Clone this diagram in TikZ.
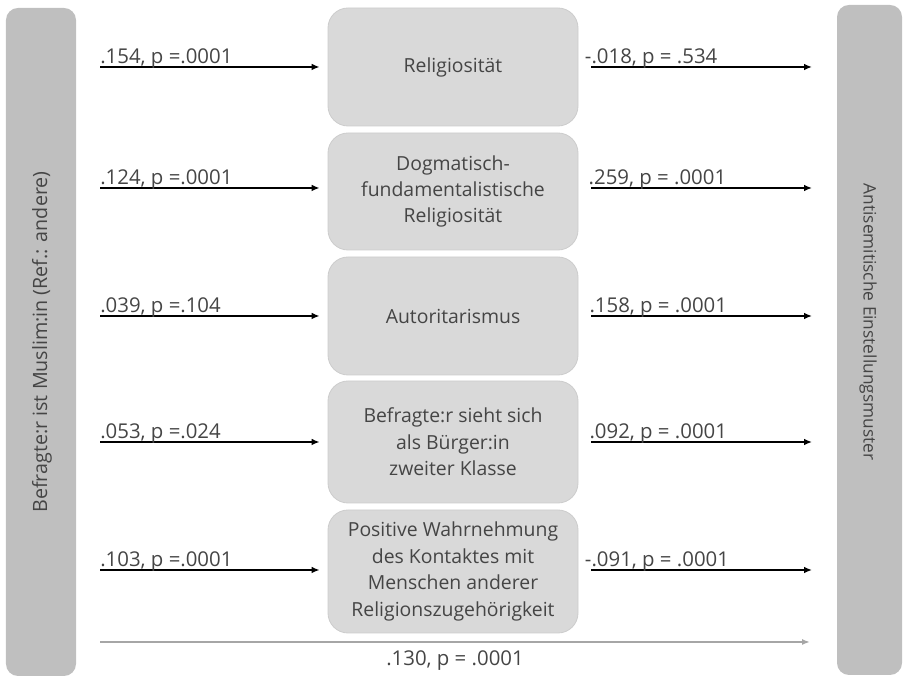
\documentclass[tikz,border=0pt]{standalone}
\usepackage{fontspec}
\setmainfont{Open Sans}
\usepackage{xcolor}
\usepackage{tikz}
\usetikzlibrary{calc,arrows.meta}
\definecolor{bargray}{HTML}{BFBFBF}
\definecolor{boxgray}{HTML}{D9D9D9}
\definecolor{boxline}{HTML}{CDCDCD}
\definecolor{txtgray}{HTML}{454545}
\definecolor{totalgray}{HTML}{A6A6A6}

\begin{document}
\begin{tikzpicture}[
  bar/.style={fill=bargray, rounded corners=0.3cm, inner sep=0pt},
  bartext/.style={text=txtgray, inner sep=0pt},
  mediator/.style={fill=boxgray, draw=boxline, line width=0.6pt, rounded corners=0.5cm, minimum width=6.25cm, text=txtgray, align=center, font=\fontsize{13.8}{18.8}\selectfont, inner sep=0pt},
  coef/.style={text=txtgray, font=\fontsize{14.5}{17}\selectfont, anchor=base west, inner sep=0pt},
  effect/.style={black, line width=1.2pt, -{Latex[length=2mm,width=1.7mm]}},
  total/.style={totalgray, line width=1.1pt, -{Latex[length=2mm,width=1.5mm]}}]
  \useasboundingbox (0,0) rectangle (22.575,16.95);
  \node[bar, minimum width=1.75cm, minimum height=16.7cm] (muslim) at (1.025,8.4) {};
  \node[bar, minimum width=1.625cm, minimum height=16.75cm] (antisem) at (21.7375,8.45) {};
  \node[bartext, rotate=90, font=\fontsize{14}{17}\selectfont] (muslimtext) at (1.05,8.4) {Befragte:r ist Muslim:in (Ref.: andere)};
  \node[bartext, rotate=-90, font=\fontsize{12.3}{15}\selectfont] (antisemtext) at (21.7,8.9) {Antisemitische Einstellungsmuster};
  \node[mediator, minimum height=2.95cm] (relig) at (11.325,15.275) {Religiosität};
  \node[mediator, minimum height=2.925cm] (dogma) at (11.325,12.1625) {Dogmatisch-\\fundamentalistische\\Religiosität};
  \node[mediator, minimum height=2.95cm] (autor) at (11.325,9.05) {Autoritarismus};
  \node[mediator, minimum height=3.05cm] (buerger) at (11.325,5.9) {Befragte:r sieht sich\\als Bürger:in\\zweiter Klasse};
  \node[mediator, minimum height=3.075cm] (kontakt) at (11.325,2.6625) {Positive Wahrnehmung\\des Kontaktes mit\\Menschen anderer\\Religionszugehörigkeit};
  \coordinate (l1) at (2.5,15.275);
  \coordinate (l2) at (2.5,12.25);
  \coordinate (l3) at (2.5,9.05);
  \coordinate (l4) at (2.5,5.9);
  \coordinate (l5) at (2.5,2.7);
  \coordinate (r1) at (20.3,15.275);
  \coordinate (r2) at (20.3,12.25);
  \coordinate (r3) at (20.3,9.05);
  \coordinate (r4) at (20.3,5.9);
  \coordinate (r5) at (20.3,2.7);
  \draw[effect, shorten >=0.2cm] (l1) -- (l1 -| relig.west);
  \draw[effect, shorten >=0.2cm] (l2) -- (l2 -| dogma.west);
  \draw[effect, shorten >=0.2cm] (l3) -- (l3 -| autor.west);
  \draw[effect, shorten >=0.2cm] (l4) -- (l4 -| buerger.west);
  \draw[effect, shorten >=0.2cm] (l5) -- (l5 -| kontakt.west);
  \draw[effect, shorten <=0.325cm] (r1 -| relig.east) -- (r1);
  \draw[effect, shorten <=0.325cm] (r2 -| dogma.east) -- (r2);
  \draw[effect, shorten <=0.325cm] (r3 -| autor.east) -- (r3);
  \draw[effect, shorten <=0.325cm] (r4 -| buerger.east) -- (r4);
  \draw[effect, shorten <=0.325cm] (r5 -| kontakt.east) -- (r5);
  \node[coef] (a1) at ($(l1)+(0,0.075)$) {.154, p =.0001};
  \node[coef] (a2) at ($(l2)+(0,0.075)$) {.124, p =.0001};
  \node[coef] (a3) at ($(l3)+(0,0.075)$) {.039, p =.104};
  \node[coef] (a4) at ($(l4)+(0,0.075)$) {.053, p =.024};
  \node[coef] (a5) at ($(l5)+(0,0.075)$) {.103, p =.0001};
  \node[coef] (b1) at ($(r1 -| relig.east)+(0.32,0.075)$) {\llap{-}.018, p = .534};
  \node[coef] (b2) at ($(r2 -| dogma.east)+(0.25,0.075)$) {.259, p = .0001};
  \node[coef] (b3) at ($(r3 -| autor.east)+(0.27,0.075)$) {.158, p = .0001};
  \node[coef] (b4) at ($(r4 -| buerger.east)+(0.27,0.075)$) {.092, p = .0001};
  \node[coef] (b5) at ($(r5 -| kontakt.east)+(0.32,0.075)$) {\llap{-}.091, p = .0001};
  \coordinate (t0) at (2.5,0.9);
  \coordinate (t1) at (20.25,0.9);
  \draw[total] (t0) -- node[coef, anchor=north, pos=0.5, yshift=-0.2cm] (ctot) {.130, p = .0001} (t1);
\end{tikzpicture}
\end{document}
